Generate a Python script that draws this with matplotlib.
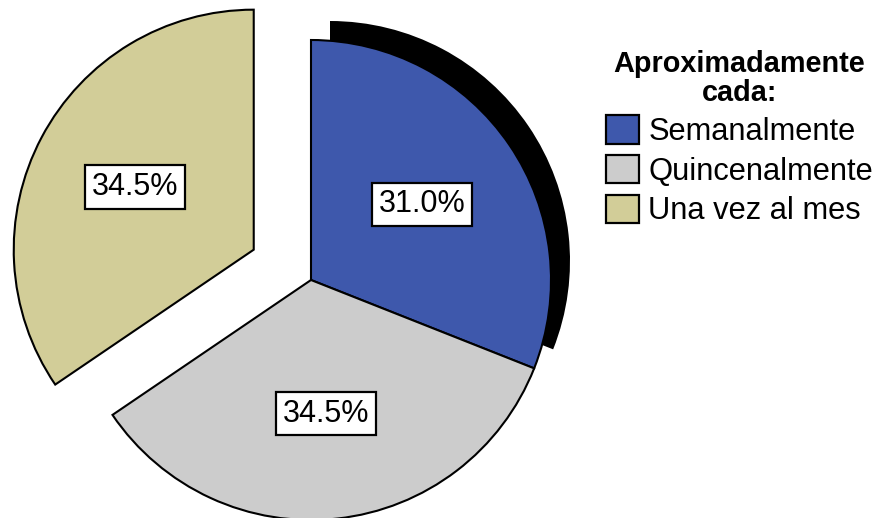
import matplotlib
matplotlib.use('Agg')
import matplotlib.pyplot as plt

categories = ['Semanalmente', 'Quincenalmente', 'Una vez al mes']
values = [31.0, 34.5, 34.5]
colors = ['#3e58ac', '#cccccc', '#d2cd98']
explode_frac = [0, 0, 0.27]
legend_title = 'Aproximadamente\ncada:'

plt.rcParams['font.family'] = ['Liberation Sans', 'DejaVu Sans']
fig = plt.figure(figsize=(8.78, 5.18), dpi=100)
ax = fig.add_axes([0, 0, 1, 1])
cx, cy, R = 311, 238, 240

# shadow behind the first slice
ax.pie(values, center=(cx + 19, cy + 19), radius=R, startangle=90,
       counterclock=False, colors=['black', 'none', 'none'],
       wedgeprops=dict(linewidth=0))

wedges, texts, autotexts = ax.pie(
    values, center=(cx, cy), radius=R, startangle=90, counterclock=False,
    colors=colors, explode=[e * R for e in explode_frac],
    autopct='%1.1f%%', pctdistance=0.56,
    wedgeprops=dict(edgecolor='black', linewidth=1.5),
    textprops=dict(fontsize=22, color='black'))
for t in autotexts:
    t.set_bbox(dict(boxstyle='square,pad=0.22', facecolor='white',
                    edgecolor='black', linewidth=1.6))

ax.set_xlim(0, 878)
ax.set_ylim(0, 518)
ax.set_aspect('equal')
ax.axis('off')

leg = ax.legend(wedges, categories, title=legend_title, loc='upper left',
                bbox_to_anchor=(606 / 878, 1 - 50 / 518),
                bbox_transform=fig.transFigure, frameon=False, fontsize=22.2,
                title_fontproperties={'weight': 'bold', 'size': 20.8},
                handlelength=1.07, handleheight=1.04, handletextpad=0.3,
                labelspacing=0.26, borderpad=0, borderaxespad=0)
leg.get_title().set_linespacing(1.05)
leg.get_title().set_multialignment('center')
for h in leg.legend_handles:
    h.set_linewidth(1.6)

fig.savefig('out.png', dpi=100)
